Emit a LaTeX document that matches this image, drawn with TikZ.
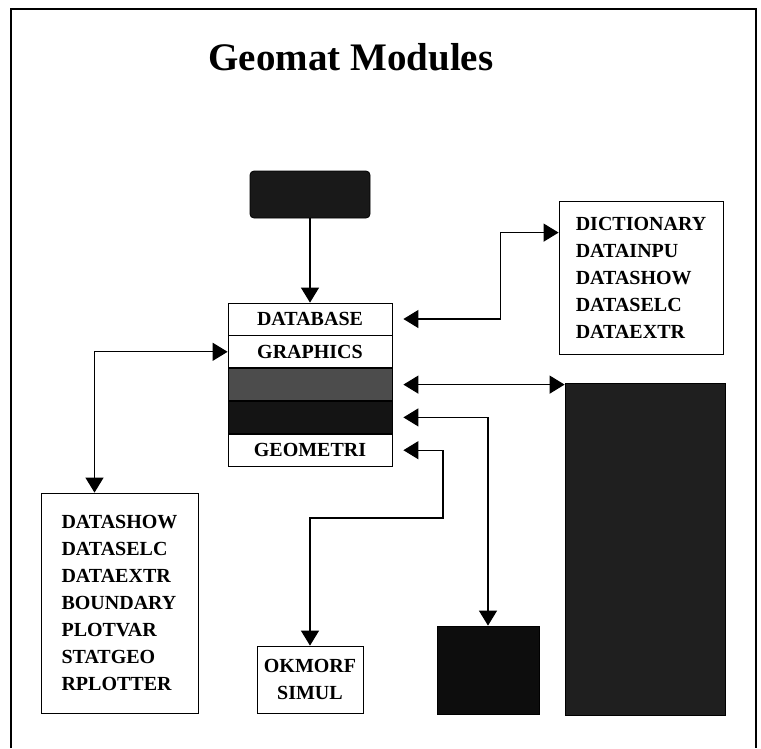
\documentclass[tikz,border=0pt]{standalone}
\usepackage{fontspec}
\setmainfont{Liberation Serif}
\usepackage{tikz}
\usetikzlibrary{positioning,arrows.meta,calc}
\tikzset{
  box/.style={draw, line width=0.8pt, inner sep=0pt, fill=white, font=\bfseries\fontsize{20}{27}\selectfont},
  listbox/.style={box, align=left},
  row/.style={box, minimum width=164pt, minimum height=32pt},
  dark/.style={draw, line width=0.8pt, fill=black!90, inner sep=0pt},
  flow/.style={-{Triangle[length=15pt,width=18pt]}, line width=1.2pt},
  dflow/.style={{Triangle[length=15pt,width=18pt]}-{Triangle[length=15pt,width=18pt]}, line width=1.2pt},
}

\begin{document}
\begin{tikzpicture}[x=1pt, y=-1pt]
  \useasboundingbox (0,0) rectangle (761,748);
  \draw[line width=1.5pt] (11,748) |- (756,9) -- (756,748);
  \node[font=\bfseries\fontsize{39}{41}\selectfont, anchor=base] (title) at (351,70) {Geomat Modules};
  \node[dark, rounded corners=4pt, minimum width=120pt, minimum height=47pt] (src) at (310,194.5) {};
  \node[row] (db) at (310,319) {DATABASE};
  \node[row, below=0pt of db] (gfx) {GRAPHICS};
  \node[row, fill=black!70, below=0pt of gfx] (grey) {};
  \node[row, fill=black!92, below=0pt of grey] (mod4) {};
  \node[row, below=0pt of mod4] (geo) {GEOMETRI};
  \node[listbox, minimum width=164pt, minimum height=153pt] (dict) at (641,277.5) {DICTIONARY\\DATAINPU\\DATASHOW\\DATASELC\\DATAEXTR};
  \node[listbox, minimum width=157pt, minimum height=220pt] (lbox) at (119.5,603) {DATASHOW\\DATASELC\\DATAEXTR\\BOUNDARY\\PLOTVAR\\STATGEO\\RPLOTTER};
  \node[box, align=center, minimum width=106pt, minimum height=67pt] (okm) at (310,679.5) {OKMORF\\SIMUL};
  \node[dark, fill=black!95, minimum width=102pt, minimum height=88pt] (blk) at (488,670) {};
  \node[dark, fill=black!88, minimum width=160pt, minimum height=332pt] (big) at (645,549) {};
  \coordinate (dictin) at ([yshift=-32pt]dict.north west);
  \coordinate (bend) at (443,518);
  \draw[flow] (src) -- (db);
  \draw[dflow] ([xshift=11pt]db.east) -| ([xshift=-58pt]dictin) -- (dictin);
  \draw[dflow] (gfx.west) -| ([xshift=-25pt]lbox.north);
  \draw[dflow] ([xshift=11pt]grey.east) -- (grey.east -| big.west);
  \draw[dflow] ([xshift=11pt]mod4.east) -| (blk.north);
  \draw[dflow] ([xshift=11pt]geo.east) -| (bend) -| (okm.north);
\end{tikzpicture}
\end{document}
